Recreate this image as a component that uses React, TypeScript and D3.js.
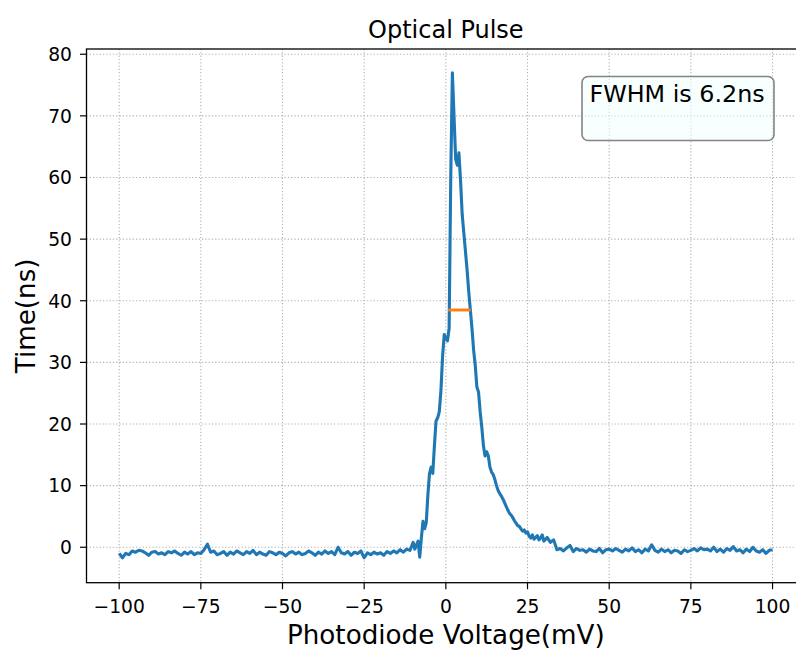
import React from "react";
import * as d3 from "d3";

// ---- data ----
const leftX = d3.range(-100, -9.99, 1);
const leftY = [
  -1.0, -1.7, -1.0, -1.2, -0.6, -0.8, -0.5, -0.6, -0.9, -1.3,
  -0.8, -0.7, -1.1, -0.9, -1.2, -0.7, -0.9, -0.6, -1.0, -1.3,
  -0.8, -1.1, -0.7, -1.2, -0.9, -1.0, -0.4, 0.5, -0.8, -0.6,
  -1.2, -1.0, -0.7, -1.3, -0.8, -1.1, -0.6, -0.9, -1.2, -0.7,
  -1.0, -0.5, -1.2, -0.8, -1.1, -1.3, -0.7, -0.9, -1.2, -0.8,
  -1.0, -1.4, -0.9, -0.7, -1.1, -0.8, -1.2, -1.0, -0.6, -0.9,
  -1.3, -0.8, -1.1, -0.6, -1.0, -0.7, -1.2, 0.0, -0.9, -1.1,
  -0.7, -1.3, -0.8, -1.0, -0.6, -1.7, -0.9, -1.2, -0.8, -1.1,
  -0.9, -1.3, -0.7, -1.0, -0.6, -0.9, -0.4, -0.8, -0.3, -0.5,
  0.8,
];
const pulseX = d3.range(-9.5, 30.01, 0.5);
const pulseY = [
  -0.3, 0.4, 1.0, -1.6, 1.5, 4.2, 3.0, 4.0, 8.5, 12.0,
  13.0, 12.0, 16.5, 20.5, 21.0, 22.0, 25.5, 31.0, 34.5, 34.0,
  33.5, 35.5, 60.0, 77.0, 70.0, 63.0, 62.0, 64.0, 59.5, 54.0,
  51.0, 48.0, 45.0, 41.5, 38.5, 35.5, 32.0, 29.5, 26.0, 25.2,
  22.0, 19.5, 16.5, 14.8, 15.5, 14.8, 13.0, 12.2, 11.8, 11.0,
  10.0, 9.2, 8.7, 8.3, 7.8, 7.2, 6.6, 6.0, 5.5, 5.2,
  4.8, 4.3, 3.9, 3.5, 3.4, 3.0, 2.6, 2.8, 2.3, 2.5,
  1.8, 1.5, 2.0, 1.3, 1.6, 1.9, 1.2, 1.5, 2.0, 1.0,
];
const rightX = d3.range(31, 100.01, 1);
const rightY = [
  1.6, 0.8, 1.2, -0.4, -0.2, -0.6, -0.1, 0.3, -0.7, -0.2,
  -0.5, -0.4, -0.8, -0.3, -0.6, -0.7, -0.2, -0.9, -0.4, -0.3,
  -0.6, -0.2, -0.5, -0.8, -0.3, -0.6, -0.1, -0.7, -0.4, -0.9,
  -0.3, -0.6, 0.4, -0.5, -0.8, -0.3, -0.7, -0.4, -0.9, -0.5,
  -0.6, -1.0, -0.4, -0.7, -0.5, -0.2, -0.6, -0.1, -0.4, -0.3,
  -0.6, 0.0, -0.7, -0.3, -0.8, -0.2, -0.5, 0.1, -0.6, -0.4,
  -0.9, -0.3, -0.7, 0.0, -0.6, -0.8, -0.4, -1.0, -0.5, -0.4,
];
const fwhmX = [0.7, 7.6];
const fwhmY = 38.5;
const xTicks = [-100, -75, -50, -25, 0, 25, 50, 75, 100];
const yTicks = [0, 10, 20, 30, 40, 50, 60, 70, 80];
const titleText = "Optical Pulse";
const xLabel = "Photodiode Voltage(mV)";
const yLabel = "Time(ns)";
const note = "FWHM is 6.2ns";

const W = 796, H = 652;
const L = 86.5, R = 805.2, T = 49, B = 582.7;
const FONT = "'DejaVu Sans', sans-serif";

export default function App() {
  const x = d3.scaleLinear().domain([-110, 110]).range([L, R]);
  const y = d3.scaleLinear().domain([-5.75, 80.85]).range([B, T]);
  const pts: [number, number][] = [
    ...leftX.map((v, i) => [v, leftY[i]] as [number, number]),
    ...pulseX.map((v, i) => [v, pulseY[i]] as [number, number]),
    ...rightX.map((v, i) => [v, rightY[i]] as [number, number]),
  ].filter((p) => p[1] !== undefined && p[0] !== undefined);
  const line = d3.line<[number, number]>().x((d) => x(d[0])).y((d) => y(d[1]));
  const fmt = (v: number) => (v < 0 ? "\u2212" + Math.abs(v) : String(v));

  return (
    <svg width={W} height={H} style={{ position: "absolute", left: 0, top: 0, background: "#fff" }}
      fontFamily={FONT}>
      <rect x={0} y={0} width={W} height={H} fill="#fff" />
      <defs>
        <clipPath id="plotclip">
          <rect x={L} y={T} width={R - L} height={B - T} />
        </clipPath>
      </defs>
      {/* grid */}
      <g stroke="#b0b0b0" strokeWidth={1.1} strokeDasharray="1.2,2.1">
        {xTicks.map((t) => (
          <line key={"gx" + t} x1={x(t)} x2={x(t)} y1={T} y2={B} />
        ))}
        {yTicks.map((t) => (
          <line key={"gy" + t} x1={L} x2={R} y1={y(t)} y2={y(t)} />
        ))}
      </g>
      <g clipPath="url(#plotclip)">
        <path d={line(pts) || ""} fill="none" stroke="#1f77b4" strokeWidth={3.1} strokeLinejoin="round" />
        <line x1={x(fwhmX[0])} x2={x(fwhmX[1])} y1={y(fwhmY)} y2={y(fwhmY)} stroke="#ff7f0e" strokeWidth={2.9} />
      </g>
      {/* annotation box */}
      <rect x={582} y={76.5} width={192} height={64} rx={6} fill="azure" fillOpacity={0.55}
        stroke="#777" strokeOpacity={0.9} strokeWidth={1.6} />
      <text x={589.5} y={101.5} fontSize={23.8} fill="#000">{note}</text>
      {/* spines */}
      <rect x={L} y={T} width={R - L} height={B - T} fill="none" stroke="#000" strokeWidth={1.3} />
      {/* x ticks */}
      <g>
        {xTicks.map((t) => (
          <g key={"xt" + t}>
            <line x1={x(t)} x2={x(t)} y1={B} y2={B + 6.5} stroke="#000" strokeWidth={1.2} />
            <text x={x(t)} y={612.5} fontSize={18.7} textAnchor="middle" fill="#000">{fmt(t)}</text>
          </g>
        ))}
      </g>
      {/* y ticks */}
      <g>
        {yTicks.map((t) => (
          <g key={"yt" + t}>
            <line x1={L - 6.5} x2={L} y1={y(t)} y2={y(t)} stroke="#000" strokeWidth={1.2} />
            <text x={72} y={y(t) + 6.8} fontSize={18.7} textAnchor="end" fill="#000">{fmt(t)}</text>
          </g>
        ))}
      </g>
      <text x={(L + R) / 2} y={37.5} fontSize={24} textAnchor="middle" fill="#000">{titleText}</text>
      <text x={(L + R) / 2} y={644} fontSize={26.2} textAnchor="middle" fill="#000">{xLabel}</text>
      <text transform={`translate(35, ${(T + B) / 2}) rotate(-90)`} fontSize={26.2} textAnchor="middle" fill="#000">{yLabel}</text>
    </svg>
  );
}
